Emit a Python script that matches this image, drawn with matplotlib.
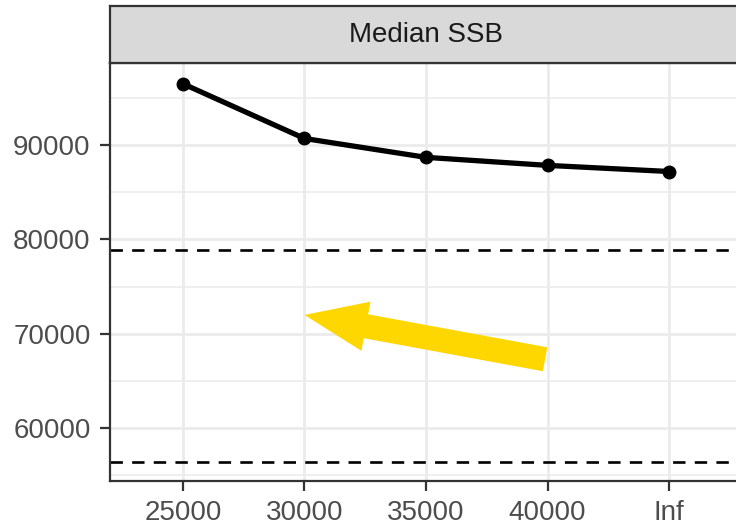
import matplotlib
matplotlib.use("Agg")
import matplotlib.pyplot as plt
from matplotlib.patches import FancyArrowPatch, ArrowStyle

plt.rcParams['font.family'] = ['Liberation Sans', 'DejaVu Sans']

# Data
categories = ["25000", "30000", "35000", "40000", "Inf"]
median_ssb = [96500, 90700, 88700, 87850, 87200]
ref_lines = [78900, 56400]
y_ticks = [60000, 70000, 80000, 90000]
y_minor = [55000, 65000, 75000, 85000, 95000]
panel_title = "Median SSB"

W, H = 736, 527
fig = plt.figure(figsize=(W / 100, H / 100), dpi=100)

# panel geometry in pixels (panel extends slightly past the right edge)
px_left, px_right, px_top, px_bottom = 110, 742, 63, 481
ax = fig.add_axes([px_left / W, 1 - px_bottom / H,
                   (px_right - px_left) / W, (px_bottom - px_top) / H])

x = list(range(len(categories)))
ax.set_xlim(-0.6, len(categories) - 1 + 0.6)
ax.set_ylim(54400, 98700)

grid_col = "#EBEBEB"
for yv in y_minor:
    ax.axhline(yv, color=grid_col, lw=1.1, zorder=0)
for yv in y_ticks:
    ax.axhline(yv, color=grid_col, lw=2.0, zorder=0)
for xv in x:
    ax.axvline(xv, color=grid_col, lw=2.0, zorder=0)

for yv in ref_lines:
    ax.axhline(yv, color="black", lw=1.9, ls=(0, (4.7, 3.5)), zorder=2)

ax.plot(x, median_ssb, color="black", lw=3.8, marker="o", ms=9, zorder=3)

# yellow arrow from 40000 toward 30000 (sizes in points)
style = ArrowStyle("Simple", head_length=45, head_width=36, tail_width=17.5)
arrow = FancyArrowPatch((2.98, 67300), (1.0, 72000), arrowstyle=style,
                        mutation_scale=1, shrinkA=0, shrinkB=0,
                        color="#FFD700", lw=0, zorder=4)
ax.add_patch(arrow)

ax.set_xticks(x)
ax.set_xticklabels(categories)
ax.set_yticks(y_ticks)
ax.set_yticklabels([str(v) for v in y_ticks])
ax.tick_params(axis="both", colors="#333333", labelcolor="#4D4D4D",
               labelsize=20, length=7, width=1.6)
ax.tick_params(axis="y", pad=7)
ax.tick_params(axis="x", pad=7)

for side in ["left", "bottom"]:
    ax.spines[side].set_color("#333333")
    ax.spines[side].set_linewidth(1.6)
ax.spines["top"].set_color("#333333")
ax.spines["top"].set_linewidth(1.6)
ax.spines["right"].set_visible(False)

# facet strip
strip_top = 6
sax = fig.add_axes([px_left / W, 1 - px_top / H,
                    (px_right - px_left) / W, (px_top - strip_top) / H])
sax.set_xlim(0, 1)
sax.set_ylim(0, 1)
sax.set_facecolor("#D9D9D9")
sax.set_xticks([])
sax.set_yticks([])
for side in ["left", "top", "bottom"]:
    sax.spines[side].set_color("#333333")
    sax.spines[side].set_linewidth(1.6)
sax.spines["right"].set_visible(False)
sax.text(0.5, 0.5, panel_title, ha="center", va="center",
         fontsize=20, color="#1A1A1A")

fig.savefig("out.png", dpi=100)
